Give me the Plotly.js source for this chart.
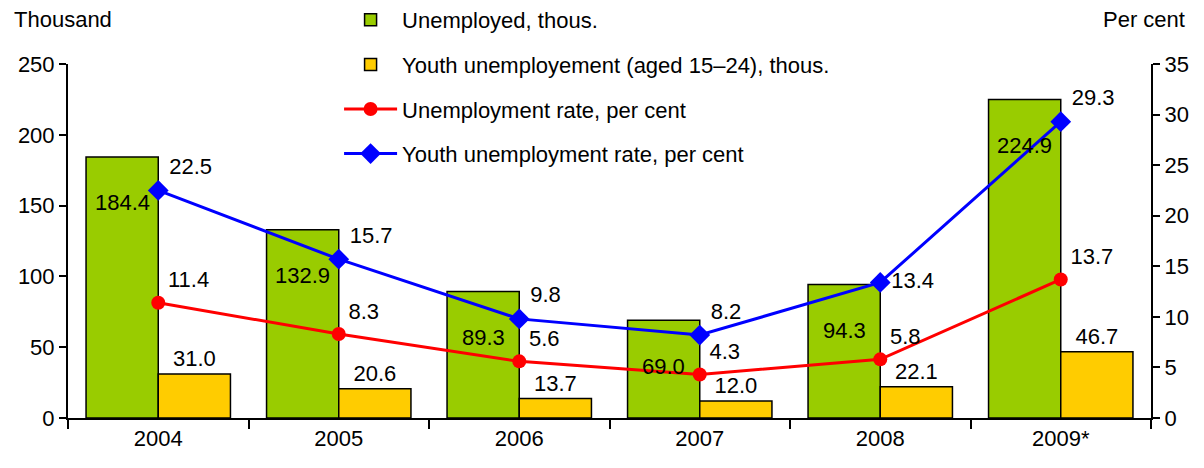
<!DOCTYPE html>
<html>
<head>
<meta charset="utf-8">
<script src="https://cdn.plot.ly/plotly-3.0.1.min.js"></script>
<style>html,body{margin:0;padding:0;background:#fff;}#chart{width:1204px;height:468px;}</style>
</head>
<body>
<div id="chart"></div>
<script>
const years = ["2004", "2005", "2006", "2007", "2008", "2009*"];
const unemployed = [184.4, 132.9, 89.3, 69.0, 94.3, 224.9];
const youthUnemployed = [31.0, 20.6, 13.7, 12.0, 22.1, 46.7];
const unemploymentRate = [11.4, 8.3, 5.6, 4.3, 5.8, 13.7];
const youthRate = [22.5, 15.7, 9.8, 8.2, 13.4, 29.3];

const FONT = "Liberation Sans, Arial, sans-serif";
const FS = 22;

const traces = [
  {
    type: "bar", name: "Unemployed, thous.", x: years, y: unemployed,
    marker: {color: "#99CC00", line: {color: "#000", width: 1.5}},
    legendgroup: "a", cliponaxis: false
  },
  {
    type: "bar", name: "Youth unemployement (aged 15\u201324), thous.", x: years, y: youthUnemployed,
    marker: {color: "#FFCC00", line: {color: "#000", width: 1.5}},
    text: youthUnemployed.map(v => v.toFixed(1)), textposition: "outside",
    textfont: {family: FONT, size: FS, color: "#000"}, constraintext: "none",
    legendgroup: "b", cliponaxis: false
  },
  {
    type: "scatter", mode: "lines+markers+text", name: "Unemployment rate, per cent",
    x: years, y: unemploymentRate, yaxis: "y2",
    line: {color: "#FF0000", width: 3}, marker: {color: "#FF0000", size: 14, symbol: "circle"},
    text: unemploymentRate.map(v => v.toFixed(1)), textposition: "top right",
    textfont: {family: FONT, size: FS, color: "#000"}, legendgroup: "c", cliponaxis: false
  },
  {
    type: "scatter", mode: "lines+markers+text", name: "Youth unemployment rate, per cent",
    x: years, y: youthRate, yaxis: "y2",
    line: {color: "#0000FF", width: 3}, marker: {color: "#0000FF", size: 16, symbol: "diamond"},
    text: youthRate.map(v => v.toFixed(1)),
    textposition: ["top right", "top right", "top right", "top right", "middle right", "top right"],
    textfont: {family: FONT, size: FS, color: "#000"}, legendgroup: "d", cliponaxis: false
  }
];

const annotations = years.map((yr, i) => ({
  x: i, y: unemployed[i], xref: "x", yref: "y",
  text: unemployed[i].toFixed(1), showarrow: false,
  xshift: -36, yshift: -46, yanchor: "middle",
  font: {family: FONT, size: FS, color: "#000"}
}));
annotations.push({
  xref: "paper", yref: "paper", x: (12 - 68) / 1083, y: 1.125, xanchor: "left", yanchor: "middle",
  text: "Thousand", showarrow: false, font: {family: FONT, size: FS, color: "#000"}
});
annotations.push({
  xref: "paper", yref: "paper", x: (1187 - 68) / 1083, y: 1.125, xanchor: "right", yanchor: "middle",
  text: "Per cent", showarrow: false, font: {family: FONT, size: FS, color: "#000"}
});

const layout = {
  width: 1204, height: 468,
  margin: {l: 68, r: 53, t: 64, b: 50, autoexpand: false},
  paper_bgcolor: "#fff", plot_bgcolor: "#fff",
  font: {family: FONT, size: FS, color: "#000"},
  barmode: "group", bargap: 0.2, bargroupgap: 0,
  showlegend: true,
  legend: {
    x: 0.2503, y: 1.1836, xanchor: "left", yanchor: "top",
    bgcolor: "rgba(0,0,0,0)", font: {family: FONT, size: FS, color: "#000"},
    traceorder: "grouped", tracegroupgap: 13, itemwidth: 53
  },
  xaxis: {
    type: "category", range: [-0.5, 5.5], autorange: false,
    showline: true, linecolor: "#000", linewidth: 2,
    ticks: "outside", tickson: "boundaries", ticklen: 9, tickwidth: 2, tickcolor: "#000",
    showgrid: false, zeroline: false, tickfont: {family: FONT, size: FS, color: "#000"}
  },
  yaxis: {
    range: [0, 250], autorange: false, dtick: 50, showline: true, linecolor: "#000", linewidth: 2,
    ticks: "outside", ticklen: 7, tickwidth: 2, tickcolor: "#000",
    showgrid: false, zeroline: false, tickfont: {family: FONT, size: FS, color: "#000"}
  },
  yaxis2: {
    range: [0, 35], autorange: false, dtick: 5, overlaying: "y", side: "right",
    showline: true, linecolor: "#000", linewidth: 2,
    ticks: "outside", ticklen: 7, tickwidth: 2, tickcolor: "#000",
    showgrid: false, zeroline: false, tickfont: {family: FONT, size: FS, color: "#000"}
  },
  annotations: annotations
};

Plotly.newPlot("chart", traces, layout, {displayModeBar: false, staticPlot: true});
</script>
</body>
</html>
